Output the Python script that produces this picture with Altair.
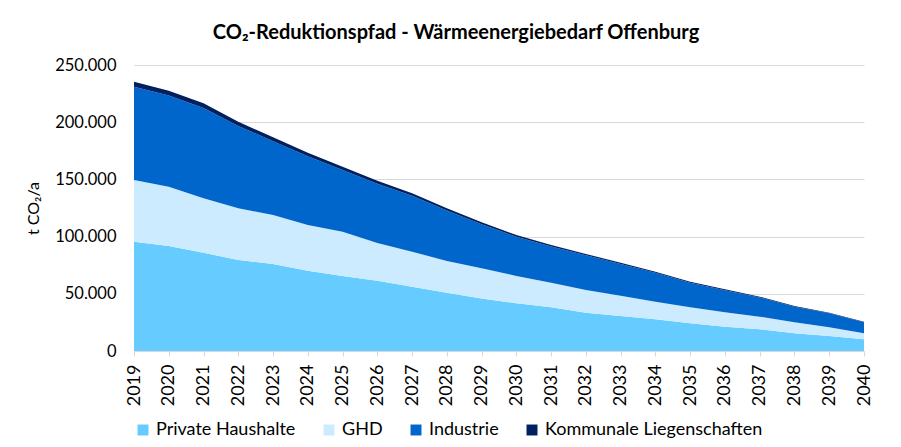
import altair as alt
import pandas as pd

years = list(range(2019, 2041))
series = ["Private Haushalte", "GHD", "Industrie", "Kommunale Liegenschaften"]
colors = ["#66CCFF", "#CCEBFF", "#0066CC", "#002060"]

private = [95500, 91800, 85900, 79500, 76000, 70200, 65600, 61300, 56200, 51000, 46000,
           41700, 38200, 33500, 30600, 27700, 24200, 21200, 19000, 15500, 13100, 10200]
ghd = [54000, 51800, 47600, 45200, 42900, 39900, 38700, 33100, 30600, 27700, 26300,
       23900, 21500, 19800, 17600, 15400, 14000, 12600, 11000, 9600, 7600, 5300]
industrie = [81500, 79700, 79000, 72000, 64500, 60100, 54000, 51900, 48900, 44100, 38500,
             34300, 31700, 30300, 27900, 25200, 21500, 19300, 16800, 13600, 12300, 9700]
kommunal = [4400, 4200, 4000, 3700, 3400, 3100, 2800, 2500, 2200, 1900, 1700,
            1500, 1300, 1200, 1100, 1000, 900, 800, 700, 600, 500, 400]

rows = []
for i, (name, vals) in enumerate(zip(series, [private, ghd, industrie, kommunal])):
    for y, v in zip(years, vals):
        rows.append({"Jahr": str(y), "Sektor": name, "Wert": v, "ord": i})
df = pd.DataFrame(rows)

FONT = "Lato"

chart = alt.Chart(df).mark_area(interpolate="linear").encode(
    x=alt.X("Jahr:O", scale=alt.Scale(padding=0),
            axis=alt.Axis(title=None, labelAngle=-90, labelFontSize=18, labelColor="#000000",
                          labelFont=FONT, labelPadding=8, domainColor="#d9d9d9",
                          tickColor="#d9d9d9", tickSize=5, grid=False, labelBaseline="middle",
                          labelAlign="right")),
    y=alt.Y("Wert:Q", stack="zero", scale=alt.Scale(domain=[0, 250000]),
            axis=alt.Axis(title="t CO₂/a", values=[0, 50000, 100000, 150000, 200000, 250000],
                          labelExpr="replace(format(datum.value, ','), ',', '.')",
                          labelFontSize=16.5, labelFont=FONT, labelColor="#000000",
                          labelPadding=18, tickSize=0, domain=False,
                          gridColor="#d9d9d9", gridWidth=1,
                          titleFont=FONT, titleFontSize=16, titleFontWeight="normal",
                          titleColor="#000000", titlePadding=13)),
    color=alt.Color("Sektor:N", scale=alt.Scale(domain=series, range=colors),
                    legend=alt.Legend(title=None, orient="bottom", direction="horizontal",
                                      symbolType="square", symbolSize=120, symbolStrokeWidth=0,
                                      labelFontSize=18, labelFont=FONT, labelColor="#000000",
                                      columnPadding=24, offset=15, labelLimit=400)),
    order=alt.Order("ord:Q"),
).properties(
    width=730,
    height=286,
    title=alt.TitleParams("CO₂-Reduktionspfad - Wärmeenergiebedarf Offenburg",
                          font=FONT, fontSize=20, fontWeight="bold", color="#000000",
                          anchor="middle", offset=14, dx=-43),
    padding={"left": 17, "top": 15, "right": 20, "bottom": 5},
).configure_view(stroke=None)

chart.save("out.html", embed_options={"renderer": "svg", "actions": False})
